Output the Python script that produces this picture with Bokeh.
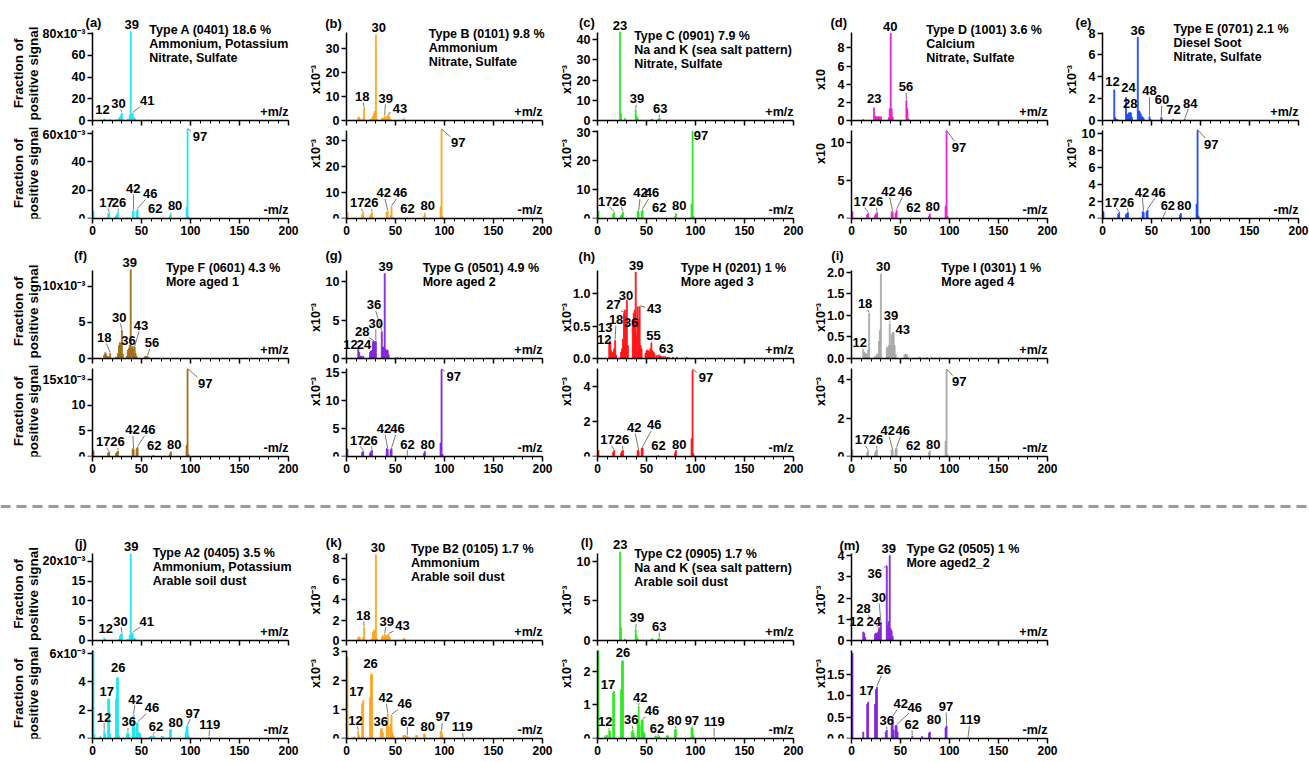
import math
from bokeh.plotting import figure
from bokeh.models import Label, Range1d, FixedTicker, Span
from bokeh.layouts import column, row
from bokeh.embed import file_html
from bokeh.resources import INLINE

FONT = "Liberation Sans"
SUP = "x10\u207b\u00b3"

# ---------------- colours ----------------
CYAN = "#1FE4F2"; ORANGE = "#FFA41C"; GREEN = "#2BE81F"; MAGENTA = "#EE1FCB"
BLUE = "#1F4CF0"; BROWN = "#9E6F17"; PURPLE = "#8424DB"; RED = "#FF1414"; GRAY = "#A8A8A8"

# ---------------- data: (m/z, fraction x1e-3) ----------------
A_POS = [(12,1.5),(13,0.8),(15,0.5),(18,1.0),(24,0.6),(26,0.8),(27,1.8),(28,3.0),(29,5.0),(30,7.0),(31,1.0),(36,1.0),(37,1.0),(38,5.0),(39,82.0),(40,5.5),(41,6.5),(42,2.0),(43,2.5),(44,0.8),(56,0.5),(57,0.3)]
A_NEG = [(1,5.0),(16,3.5),(17,4.0),(24,2.0),(25,3.0),(26,4.5),(35,0.5),(41,5.0),(42,5.5),(45,5.0),(46,6.5),(47,1.0),(62,0.5),(72,0.5),(79,2.0),(80,3.5),(96,8.0),(97,63.0),(98,1.5)]
B_POS = [(12,1.2),(13,1.4),(14,0.5),(17,0.8),(18,5.3),(24,0.5),(26,1.0),(27,1.8),(28,3.0),(29,3.9),(30,35.5),(31,0.6),(36,0.8),(37,1.0),(38,0.8),(39,1.8),(40,0.6),(41,1.4),(42,2.0),(43,2.6),(44,1.2),(45,0.4),(58,0.6),(59,0.7)]
B_NEG = [(1,2.3),(16,1.5),(17,2.3),(24,1.0),(25,1.5),(26,2.3),(41,2.5),(42,2.8),(45,1.2),(46,4.5),(47,0.5),(62,0.3),(79,0.8),(80,2.0),(96,4.5),(97,34.0),(98,0.8)]
C_POS = [(23,43.8),(24,3.3),(28,1.0),(39,5.3),(40,2.0),(41,1.0),(55,0.6),(56,0.6),(62,0.6),(63,1.2),(64,0.3)]
C_NEG = [(1,2.5),(16,1.5),(17,2.0),(24,1.0),(25,1.5),(26,2.2),(41,2.5),(42,2.3),(45,2.5),(46,3.0),(62,0.2),(79,0.5),(80,1.7),(96,5.0),(97,30.0),(98,0.8)]
D_POS = [(12,0.1),(23,1.4),(24,0.5),(25,0.4),(26,0.4),(27,0.4),(28,0.4),(29,0.4),(30,0.4),(38,0.3),(39,1.3),(40,9.6),(41,1.3),(42,0.4),(56,2.2),(57,1.3),(58,0.2)]
D_NEG = [(1,0.9),(16,0.5),(17,0.7),(24,0.4),(25,0.6),(26,0.8),(41,0.9),(42,0.8),(45,0.7),(46,1.1),(79,0.3),(80,0.6),(96,1.6),(97,11.5),(98,0.3)]
E_POS = [(12,2.8),(13,0.3),(14,0.1),(15,0.1),(24,2.1),(25,0.6),(26,0.5),(27,0.7),(28,0.7),(29,0.7),(30,0.3),(36,7.6),(37,0.9),(38,0.8),(39,0.6),(40,0.4),(41,0.3),(42,0.2),(48,0.35),(49,0.1),(60,0.3),(61,0.1),(72,0.1),(84,0.1)]
E_NEG = [(1,0.8),(16,0.5),(17,0.7),(24,0.5),(25,0.6),(26,0.7),(41,0.8),(42,0.7),(45,0.8),(46,1.0),(62,0.1),(79,0.4),(80,0.6),(96,1.7),(97,10.4),(98,0.3)]
F_POS = [(12,0.5),(13,0.8),(14,0.6),(15,0.3),(17,0.3),(18,0.7),(24,0.2),(26,0.7),(27,1.8),(28,2.2),(29,2.1),(30,3.9),(31,0.6),(35,0.3),(36,1.1),(37,1.4),(38,1.8),(39,12.3),(40,1.4),(41,1.7),(42,1.2),(43,1.6),(44,0.7),(45,0.3),(53,0.2),(54,0.3),(55,0.3),(56,0.3),(57,0.2)]
F_NEG = [(1,1.2),(16,0.7),(17,0.9),(24,0.6),(25,0.9),(26,1.0),(41,1.5),(42,1.3),(45,1.5),(46,1.8),(62,0.2),(79,0.5),(80,0.9),(96,2.2),(97,17.0),(98,0.4)]
G_POS = [(12,1.2),(13,0.8),(14,0.3),(15,0.3),(17,0.3),(24,0.8),(25,1.0),(26,1.0),(27,2.2),(28,2.2),(29,2.2),(30,2.2),(36,3.5),(37,1.5),(38,1.5),(39,11.1),(40,1.2),(41,1.0),(42,1.1),(43,0.5),(50,0.1),(52,0.1),(55,0.1)]
G_NEG = [(1,1.3),(16,0.7),(17,0.9),(24,0.6),(25,0.9),(26,1.1),(41,1.4),(42,1.3),(45,1.2),(46,1.4),(62,0.1),(79,0.5),(80,0.9),(96,2.4),(97,15.6),(98,0.4)]
H_POS = [(12,0.25),(13,0.27),(14,0.12),(15,0.08),(16,0.1),(17,0.15),(18,0.28),(19,0.05),(24,0.1),(25,0.15),(26,0.3),(27,0.7),(28,0.75),(29,0.65),(30,0.9),(31,0.2),(36,0.6),(37,0.7),(38,0.75),(39,1.335),(40,0.35),(41,0.8),(42,0.6),(43,0.8),(44,0.2),(45,0.15),(49,0.08),(50,0.12),(51,0.13),(52,0.12),(53,0.1),(54,0.15),(55,0.24),(56,0.12),(57,0.1),(58,0.08),(60,0.05),(62,0.05),(63,0.04),(64,0.04),(65,0.03),(67,0.03),(69,0.03),(71,0.02),(73,0.02),(77,0.02),(81,0.02),(91,0.02)]
H_NEG = [(1,0.35),(16,0.25),(17,0.35),(24,0.2),(25,0.3),(26,0.35),(41,0.35),(42,0.3),(45,0.45),(46,0.5),(62,0.05),(79,0.2),(80,0.35),(96,1.0),(97,4.9),(98,0.15)]
I_POS = [(12,0.2),(13,0.15),(14,0.12),(15,0.1),(16,0.1),(17,0.2),(18,1.05),(24,0.05),(26,0.1),(27,0.1),(28,0.4),(29,0.65),(30,1.96),(36,0.25),(37,0.25),(38,0.3),(39,0.8),(40,0.3),(41,0.55),(42,0.6),(43,0.6),(44,0.3),(45,0.1),(54,0.08),(55,0.1),(56,0.1),(57,0.08),(69,0.03),(70,0.03),(77,0.02),(82,0.02),(90,0.02)]
I_NEG = [(1,0.35),(16,0.2),(17,0.3),(24,0.2),(25,0.3),(26,0.35),(41,0.35),(42,0.3),(45,0.4),(46,0.45),(62,0.05),(79,0.2),(80,0.3),(96,0.8),(97,4.5),(98,0.1)]
J_POS = [(12,0.6),(13,0.3),(27,0.3),(28,1.2),(29,1.6),(30,1.7),(36,0.3),(38,1.3),(39,21.9),(40,1.7),(41,1.8),(42,0.6),(43,0.5),(44,0.3)]
J_NEG = [(1,6.2),(2,0.3),(8,0.15),(12,0.55),(13,0.3),(16,2.8),(17,2.8),(18,0.3),(24,2.8),(25,4.3),(26,4.3),(27,0.2),(35,0.3),(36,0.45),(37,0.3),(41,1.0),(42,1.7),(43,0.8),(45,1.1),(46,1.1),(47,0.4),(48,0.4),(49,0.3),(59,0.15),(60,0.15),(62,0.2),(63,0.15),(71,0.15),(72,0.15),(79,0.6),(80,0.65),(95,0.4),(96,0.85),(97,0.9),(98,0.2),(119,0.1)]
K_POS = [(12,0.3),(13,0.35),(14,0.2),(17,0.3),(18,1.3),(26,0.2),(27,0.8),(28,1.0),(29,1.0),(30,8.4),(31,0.2),(36,0.3),(37,0.5),(38,0.3),(39,0.6),(40,0.3),(41,0.5),(42,0.5),(43,0.6),(44,0.3),(58,0.15),(59,0.2)]
K_NEG = [(1,2.8),(8,0.05),(12,0.25),(13,0.1),(16,1.2),(17,1.3),(24,1.4),(25,2.2),(26,2.2),(35,0.3),(36,0.35),(37,0.2),(41,0.5),(42,0.85),(43,0.4),(45,0.5),(46,0.8),(47,0.2),(48,0.1),(58,0.1),(59,0.1),(60,0.1),(61,0.08),(62,0.08),(63,0.05),(71,0.1),(72,0.1),(79,0.15),(80,0.15),(96,0.25),(97,0.25),(98,0.1),(119,0.02)]
L_POS = [(23,11.2),(24,1.6),(28,0.2),(39,1.4),(40,0.6),(41,0.2),(55,0.2),(56,0.2),(62,0.2),(63,0.3),(64,0.1)]
L_NEG = [(1,2.6),(8,0.08),(10,0.1),(12,0.25),(13,0.2),(16,1.35),(17,1.4),(24,1.45),(25,2.3),(26,2.3),(35,0.2),(36,0.25),(37,0.15),(41,0.5),(42,0.95),(43,0.4),(45,0.55),(46,0.55),(47,0.2),(48,0.15),(59,0.07),(60,0.07),(62,0.05),(63,0.07),(71,0.08),(72,0.08),(79,0.25),(80,0.28),(96,0.32),(97,0.3),(98,0.1),(119,0.03)]
M_POS = [(12,0.4),(13,0.35),(14,0.15),(24,0.3),(25,0.35),(26,0.3),(27,0.4),(28,0.55),(29,0.6),(30,0.85),(36,3.5),(37,0.7),(38,0.9),(39,4.0),(40,0.55),(41,0.45),(42,0.2)]
M_NEG = [(1,2.0),(12,0.15),(16,0.8),(17,0.85),(24,0.8),(25,1.15),(26,1.2),(35,0.15),(36,0.2),(41,0.3),(42,0.5),(43,0.2),(45,0.3),(46,0.3),(47,0.15),(62,0.05),(72,0.05),(79,0.12),(80,0.15),(96,0.25),(97,0.3),(119,0.02)]

# ---------------- y ticks ----------------
A_POS_TICKS = [0, 20, 40, 60, 80];  A_NEG_TICKS = [0, 20, 40, 60]
B_POS_TICKS = [0, 10, 20, 30];      B_NEG_TICKS = [0, 10, 20, 30]
C_POS_TICKS = [0, 10, 20, 30, 40];  C_NEG_TICKS = [0, 10, 20, 30]
D_POS_TICKS = [0, 2, 4, 6, 8];      D_NEG_TICKS = [0, 5, 10]
E_POS_TICKS = [0, 2, 4, 6, 8];      E_NEG_TICKS = [0, 2, 4, 6, 8, 10]
F_POS_TICKS = [0, 5, 10];           F_NEG_TICKS = [0, 5, 10, 15]
G_POS_TICKS = [0, 5, 10];           G_NEG_TICKS = [0, 5, 10, 15]
H_POS_TICKS = [0, 0.5, 1.0];        H_NEG_TICKS = [0, 2, 4]
I_POS_TICKS = [0, 0.5, 1.0, 1.5, 2.0]; I_NEG_TICKS = [0, 2, 4]
J_POS_TICKS = [0, 5, 10, 15, 20];   J_NEG_TICKS = [0, 2, 4, 6]
K_POS_TICKS = [0, 2, 4, 6, 8];      K_NEG_TICKS = [0, 1, 2, 3]
L_POS_TICKS = [0, 5, 10];           L_NEG_TICKS = [0, 1, 2]
M_POS_TICKS = [0, 1, 2, 3, 4];      M_NEG_TICKS = [0, 0.5, 1.0, 1.5]

# ---------------- panel texts ----------------
A_TEXT = ["Type A (0401) 18.6 %", "Ammonium, Potassium", "Nitrate, Sulfate"]
B_TEXT = ["Type B (0101) 9.8 %", "Ammonium", "Nitrate, Sulfate"]
C_TEXT = ["Type C (0901) 7.9 %", "Na and K (sea salt pattern)", "Nitrate, Sulfate"]
D_TEXT = ["Type D (1001) 3.6 %", "Calcium", "Nitrate, Sulfate"]
E_TEXT = ["Type E (0701) 2.1 %", "Diesel Soot", "Nitrate, Sulfate"]
F_TEXT = ["Type F (0601) 4.3 %", "More aged 1"]
G_TEXT = ["Type G (0501) 4.9 %", "More aged 2"]
H_TEXT = ["Type H (0201) 1 %", "More aged 3"]
I_TEXT = ["Type I (0301) 1 %", "More aged 4"]
J_TEXT = ["Type A2 (0405) 3.5 %", "Ammonium, Potassium", "Arable soil dust"]
K_TEXT = ["Type B2 (0105) 1.7 %", "Ammonium", "Arable soil dust"]
L_TEXT = ["Type C2 (0905) 1.7 %", "Na and K (sea salt pattern)", "Arable soil dust"]
M_TEXT = ["Type G2 (0505) 1 %", "More aged2_2"]

# ---------------- peak labels: (peak m/z, label x, label y or None=above bar, leader) ----------------
A_POS_LAB = [(12,10.2,10.0,False),(30,26.6,15.6,True),(41,55.8,18.4,True),(39,40,None,False)]
A_NEG_LAB = [(17,14.2,11.3,True),(26,27.0,11.3,True),(42,41.6,21.2,True),(46,58.9,17.6,True),(62,64.0,7.1,False),(80,84.3,9.2,False),(97,109.6,57.9,True)]
B_POS_LAB = [(18,16,9.8,True),(30,33,None,False),(39,40,9.2,True),(43,54.6,5.0,True)]
B_NEG_LAB = [(17,11,6.0,True),(26,25.3,6.0,True),(42,38,9.8,True),(46,54.7,9.8,True),(62,62.3,3.8,False),(80,83,5.0,False),(97,114,29.0,True)]
C_POS_LAB = [(23,23,None,False),(39,40.2,10.7,True),(63,64,5.8,True)]
C_NEG_LAB = [(17,7.9,6.0,True),(26,22.2,6.0,True),(42,43.9,8.8,True),(46,55.5,8.8,True),(62,63,3.7,False),(80,83.4,4.5,False),(97,105.5,28.5,True)]
D_POS_LAB = [(40,39.6,None,False),(23,23.2,2.4,False),(56,55.7,3.7,True)]
D_NEG_LAB = [(17,9.5,2.2,True),(26,24.9,2.2,True),(42,37.8,3.6,True),(46,54.6,3.6,True),(62,63.2,1.4,False),(80,83,1.6,False),(97,109.7,9.4,True)]
E_POS_LAB = [(12,10.2,3.6,False),(24,26.5,3.0,False),(28,28.3,1.6,False),(36,36,None,False),(48,48,2.7,True),(60,60.6,1.9,True),(72,72.4,1.0,False),(84,89.5,1.6,True)]
E_NEG_LAB = [(17,9.6,1.95,True),(26,24.9,1.95,True),(42,40.2,3.1,True),(46,57.1,3.1,True),(62,66.7,1.55,True),(80,83.4,1.55,False),(97,110.9,8.8,True)]
F_POS_LAB = [(39,38.1,None,False),(30,27.2,5.7,True),(18,12,2.9,True),(36,36.8,2.5,False),(43,49.4,4.6,True),(56,60.6,2.2,True)]
F_NEG_LAB = [(17,10.9,2.85,True),(26,25.6,2.85,True),(42,40.8,5.2,True),(46,56.8,5.2,True),(62,63,2.2,False),(80,83.4,2.4,False),(97,115,14.3,True)]
G_POS_LAB = [(39,40,None,False),(36,28,7.0,True),(28,16.1,3.5,True),(30,29.8,4.6,True),(12,4.1,1.8,False),(24,17.8,1.8,False)]
G_NEG_LAB = [(17,11,2.9,True),(26,24.6,2.9,True),(42,38.3,5.0,True),(46,52,5.0,True),(62,62.3,2.2,True),(80,82.8,2.2,False),(97,109.5,14.4,True)]
H_POS_LAB = [(39,39.5,None,False),(30,29,0.98,False),(27,16.4,0.83,True),(18,19,0.6,True),(13,7.9,0.48,False),(12,6.8,0.29,True),(36,34.4,0.55,True),(43,57.9,0.78,True),(55,57.1,0.36,True),(63,70.1,0.15,True)]
H_NEG_LAB = [(17,10.2,0.95,True),(26,24.9,0.95,True),(42,37.4,1.65,True),(46,57.9,1.8,True),(62,62.3,0.6,False),(80,83.4,0.7,False),(97,110.6,4.5,True)]
I_POS_LAB = [(30,32.4,None,False),(18,13.9,1.27,True),(39,40.3,1.0,True),(43,52.3,0.68,True),(12,8.5,0.37,True)]
I_NEG_LAB = [(17,10.6,0.86,True),(26,24.9,0.86,True),(42,36.9,1.36,True),(46,52.3,1.36,True),(62,62.9,0.55,False),(80,83.4,0.64,False),(97,110,3.9,True)]
J_POS_LAB = [(39,39.5,None,False),(12,13.5,3.0,False),(30,28.6,4.9,True),(41,55.4,4.9,True)]
J_NEG_LAB = [(26,26.3,5.05,False),(17,14.5,3.36,False),(12,11.7,1.52,True),(36,37,1.17,True),(42,43.8,2.77,True),(46,60.7,2.19,True),(62,64.8,0.87,True),(80,85,1.1,False),(97,102.2,1.8,True),(119,119.7,1.0,True)]
K_POS_LAB = [(30,32.2,None,False),(18,17.1,2.45,True),(39,41,1.9,True),(43,57.2,1.47,True)]
K_NEG_LAB = [(26,24.6,2.59,False),(17,10.3,1.63,False),(12,9.2,0.63,True),(36,34.9,0.6,False),(42,40,1.4,True),(46,59.5,1.2,True),(62,62.3,0.6,True),(80,82.8,0.42,False),(97,98.3,0.74,True),(119,118,0.4,True)]
L_POS_LAB = [(23,23.2,None,False),(39,40.2,2.87,True),(63,63,1.77,True)]
L_NEG_LAB = [(26,25.9,2.55,False),(17,10.6,1.6,False),(12,7.9,0.49,True),(36,34.4,0.56,True),(42,43.6,1.23,True),(46,55.5,0.82,True),(62,60.6,0.3,True),(80,78.6,0.54,True),(97,96.3,0.54,True),(119,119,0.49,True)]
M_POS_LAB = [(39,38,None,False),(36,23.6,3.16,True),(30,27.7,2.03,True),(28,12.3,1.5,True),(24,22.6,0.9,False),(12,5.1,0.9,False)]
M_NEG_LAB = [(17,15.4,1.12,False),(26,32.8,1.62,True),(36,35.9,0.42,True),(42,50.3,0.82,True),(46,64.6,0.73,True),(62,61.5,0.33,True),(80,84.1,0.44,False),(97,96.4,0.75,True),(119,121,0.44,True)]

# ---------------- layout geometry (page pixels) ----------------
FW = 196                                   # px spanned by m/z 0..200
COL_B = [0, 301, 553, 806, 1058, 1309]     # column boundaries
AXIS_X = [92, 346, 597, 851, 1102]         # y-axis position in each column
# per row: (pos height, pos px below zero, pos axis px, neg height, neg bottom, neg axis px)
ROW_GEOM = [(127, 7, 88, 119, 28, 88), (119, 7, 88, 119, 28, 88), (117, 6, 87, 116, 24, 88)]
SEP_H = 45
X_TICKS = [0, 50, 100, 150, 200]
X_MINOR = list(range(0, 201, 10))


def fmt_ticks(ticks, col):
    dec = any(abs(t - round(t)) > 1e-9 for t in ticks)
    labs = [("%.1f" % t) if dec else str(int(round(t))) for t in ticks]
    if col == 0:
        labs[-1] = labs[-1] + SUP
    return labs


def label(p, x, y, text, size="13px", align="center", xo=0, yo=0, angle=0.0):
    p.add_layout(Label(x=x, y=y, x_offset=xo, y_offset=yo, text=text, text_font=FONT,
                       text_font_style="bold", text_font_size=size, text_align=align,
                       text_baseline="middle", angle=angle, text_color="black"))


def make_sub(col, height, bottom, axis_px, ytop, bars, ticks, color, labs, is_neg):
    W = COL_B[col + 1] - COL_B[col]
    A = AXIS_X[col] - COL_B[col]
    R = W - A - FW
    upx = 200.0 / FW
    ypx = axis_px / ytop
    if is_neg:
        yr = Range1d(0, (height - bottom) / ypx)
        mb = bottom
    else:
        yr = Range1d(-bottom / ypx, (height - bottom) / ypx)
        mb = 0
    p = figure(width=W, height=height,
               x_range=Range1d(-A * upx, 200 + R * upx), y_range=yr,
               output_backend="svg", toolbar_location=None,
               min_border_left=0, min_border_right=0, min_border_top=0, min_border_bottom=mb)
    p.outline_line_color = None
    p.xgrid.visible = False
    p.ygrid.visible = False
    p.background_fill_color = "white"
    p.border_fill_color = "white"

    mz = [b[0] for b in bars]
    val = [b[1] for b in bars]
    p.vbar(x=mz, top=val, width=1.0, fill_color=color, line_color=color, line_width=0.8)

    xa = p.xaxis[0]
    ya = p.yaxis[0]
    for ax in (xa, ya):
        ax.axis_line_color = "black"; ax.axis_line_width = 1.5
        ax.major_tick_line_color = "black"; ax.major_tick_line_width = 1.5
        ax.minor_tick_line_color = "black"; ax.minor_tick_line_width = 1
        ax.major_tick_in = 0; ax.minor_tick_in = 0
        ax.major_label_text_font = FONT
        ax.major_label_text_font_style = "bold"
        ax.major_label_text_color = "black"
    xa.bounds = (0, 200)
    if is_neg:
        xa.ticker = FixedTicker(ticks=X_TICKS, minor_ticks=X_MINOR)
        xa.major_tick_out = 5; xa.minor_tick_out = 3
        xa.major_label_text_font_size = "12px"; xa.major_label_standoff = 2
    else:
        # axis at zero inside the frame, short ticks from the axis, long ticks (no labels) as segments
        xa.fixed_location = 0
        xa.ticker = FixedTicker(ticks=[], minor_ticks=X_MINOR)
        xa.minor_tick_out = 3
        p.segment(x0=X_TICKS, y0=[0] * len(X_TICKS), x1=X_TICKS, y1=[-5.0 / ypx] * len(X_TICKS),
                  line_color="black", line_width=1.5)
    ya.fixed_location = 0
    ya.bounds = (0, ytop)
    ya.ticker = FixedTicker(ticks=ticks, minor_ticks=[])
    ya.major_tick_out = 5; ya.minor_tick_out = 0
    ya.major_label_text_font_size = "12.5px"; ya.major_label_standoff = 2
    ya.major_label_overrides = {t: s for t, s in zip(ticks, fmt_ticks(ticks, col))}

    # peak labels with leader lines
    d = dict(bars)
    xpx = FW / 200.0
    x0s, y0s, x1s, y1s = [], [], [], []
    for (pk, lx, ly, lead) in labs:
        txt = str(pk)
        v = d.get(pk, 0.0)
        if ly is None:
            label(p, lx, v, txt, yo=7)
            continue
        label(p, lx, ly, txt)
        if lead:
            dxp = (pk - lx) * xpx
            dyp = (v - ly) * ypx
            hw = 3.7 * len(txt) + 1.5
            hh = 6.0
            tx = hw / abs(dxp) if abs(dxp) > 1e-6 else 1e9
            ty = hh / abs(dyp) if abs(dyp) > 1e-6 else 1e9
            t = min(tx, ty)
            if t >= 0.85:
                continue
            x0s.append(pk); y0s.append(v + 1.0 / ypx)
            x1s.append(lx + t * (pk - lx)); y1s.append(ly + t * (v - ly))
    if x0s:
        p.segment(x0=x0s, y0=y0s, x1=x1s, y1=y1s, line_color="#555555", line_width=0.8)
    return p


PANELS = [
    # letter, row, col, colour, text, text x, first-line offset, (letter dx, up),
    # pos (bars, axis top, ticks, labels), neg (bars, axis top, ticks, labels)
    ("a", 0, 0, CYAN, A_TEXT, 58, -3, (1, 10), (A_POS, 81.2, A_POS_TICKS, A_POS_LAB), (A_NEG, 62.1, A_NEG_TICKS, A_NEG_LAB)),
    ("b", 0, 1, ORANGE, B_TEXT, 84, 1, (-13, 9), (B_POS, 36.5, B_POS_TICKS, B_POS_LAB), (B_NEG, 33.8, B_NEG_TICKS, B_NEG_LAB)),
    ("c", 0, 2, GREEN, C_TEXT, 37.4, 3, (-10.6, 10.3), (C_POS, 43.6, C_POS_TICKS, C_POS_LAB), (C_NEG, 30.3, C_NEG_TICKS, C_NEG_LAB)),
    ("d", 0, 3, MAGENTA, D_TEXT, 76.2, -3, (-12.7, 10), (D_POS, 9.7, D_POS_TICKS, D_POS_LAB), (D_NEG, 11.6, D_NEG_TICKS, D_NEG_LAB)),
    ("e", 0, 4, BLUE, E_TEXT, 72.4, -4, (-19, 10.3), (E_POS, 8.05, E_POS_TICKS, E_POS_LAB), (E_NEG, 10.4, E_NEG_TICKS, E_NEG_LAB)),
    ("f", 1, 0, BROWN, F_TEXT, 74.9, -3, (-12, 15), (F_POS, 12.2, F_POS_TICKS, F_POS_LAB), (F_NEG, 17.2, F_NEG_TICKS, F_NEG_LAB)),
    ("g", 1, 1, PURPLE, G_TEXT, 77.7, -3, (-12.7, 15), (G_POS, 11.5, G_POS_TICKS, G_POS_LAB), (G_NEG, 15.8, G_NEG_TICKS, G_NEG_LAB)),
    ("h", 1, 2, RED, H_TEXT, 85, -3, (-10.6, 14.3), (H_POS, 1.36, H_POS_TICKS, H_POS_LAB), (H_NEG, 5.0, H_NEG_TICKS, H_NEG_LAB)),
    ("i", 1, 3, GRAY, I_TEXT, 91.6, -3, (-14, 15), (I_POS, 2.04, I_POS_TICKS, I_POS_LAB), (I_NEG, 4.58, I_NEG_TICKS, I_NEG_LAB)),
    ("j", 2, 0, CYAN, J_TEXT, 61.4, -1, (-11.7, 10.3), (J_POS, 22.0, J_POS_TICKS, J_POS_LAB), (J_NEG, 6.23, J_NEG_TICKS, J_NEG_LAB)),
    ("k", 2, 1, ORANGE, K_TEXT, 65.7, -5, (-12.7, 11.3), (K_POS, 8.5, K_POS_TICKS, K_POS_LAB), (K_NEG, 3.02, K_NEG_TICKS, K_NEG_LAB)),
    ("l", 2, 2, GREEN, L_TEXT, 37.4, 0, (-10.6, 11.3), (L_POS, 11.0, L_POS_TICKS, L_POS_LAB), (L_NEG, 2.61, L_NEG_TICKS, L_NEG_LAB)),
    ("m", 2, 3, PURPLE, M_TEXT, 56, -5, (-2, 8), (M_POS, 4.1, M_POS_TICKS, M_POS_LAB), (M_NEG, 2.06, M_NEG_TICKS, M_NEG_LAB)),
]

rows_children = [[], [], []]
for (key, r, c, colr, text, tx, toff, (pdx, pup), pos, neg) in PANELS:
    ph, pb, pax, nh, nb, nax = ROW_GEOM[r]
    pp = make_sub(c, ph, pb, pax, pos[1], pos[0], pos[2], colr, pos[3], False)
    pn = make_sub(c, nh, nb, nax, neg[1], neg[0], neg[2], colr, neg[3], True)
    ymp = pos[1]; ymn = neg[1]
    label(pp, 0, ymp, "(%s)" % key, xo=pdx, yo=pup)
    for i, line in enumerate(text):
        label(pp, tx, ymp, line, size="12.5px", align="left", yo=-(toff + 14 * i))
    label(pp, 200, 0, "+m/z", size="12.5px", align="right", yo=9)
    label(pn, 200, 0, "-m/z", size="12.5px", align="right", yo=9)
    if c == 0:
        for pl, ym, yo in ((pp, ymp, 3), (pn, ymn, 1)):
            label(pl, 0, ym / 2.0, "Fraction of", size="13.5px", xo=-74, yo=yo, angle=math.pi / 2)
            label(pl, 0, ym / 2.0, "positive signal", size="13.5px", xo=-59, yo=yo, angle=math.pi / 2)
    else:
        ylab = "x10" if key == "d" else SUP
        label(pp, 0, ymp / 2.0, ylab, size="12.5px", xo=-31, yo=-3, angle=math.pi / 2)
        label(pn, 0, ymn / 2.0, ylab, size="12.5px", xo=-31, yo=21, angle=math.pi / 2)
    rows_children[r].append(column(pp, pn))

sep = figure(width=COL_B[-1], height=SEP_H, x_range=Range1d(0, 1), y_range=Range1d(0, SEP_H),
             output_backend="svg", toolbar_location=None, min_border=0,
             x_axis_type=None, y_axis_type=None)
sep.outline_line_color = None
sep.add_layout(Span(location=SEP_H - 22, dimension="width", line_color="#9a9a9a",
                    line_width=3, line_dash="10 6"))

layout = column(row(*rows_children[0]), row(*rows_children[1]), sep, row(*rows_children[2]))

open("out.html", "w").write(file_html(layout, INLINE))
